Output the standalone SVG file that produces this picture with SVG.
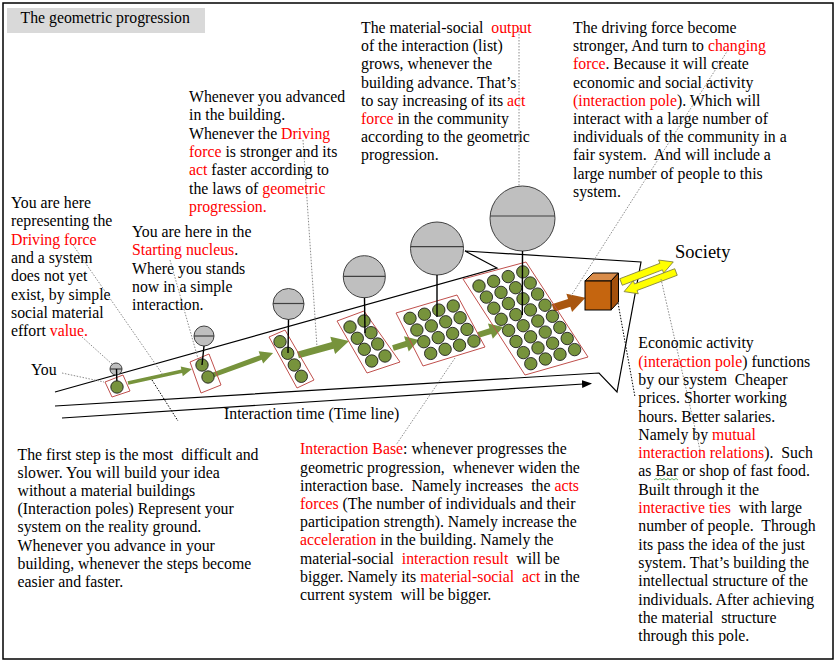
<svg xmlns="http://www.w3.org/2000/svg" width="838" height="663" viewBox="0 0 838 663" xml:space="preserve">
<defs>
<style>
.t{font-family:"Liberation Serif","Times New Roman",serif;font-size:15.8px;fill:#000;white-space:pre}
.r{fill:#ff0000}
.gc{fill:#bfbfbf;stroke:#404040;stroke-width:1}
.gl{stroke:#404040;stroke-width:1.2}
.stem{stroke:#000;stroke-width:1.4}
.g{fill:#77933c;stroke:#1e1e1e;stroke-width:0.9}
.base{fill:none;stroke:#c0504d;stroke-width:1}
.ga{fill:#77933c}
.ln{fill:none;stroke:#000;stroke-width:1.2}
.dot{fill:none;stroke:#8c8c8c;stroke-width:1;stroke-dasharray:1.5 1.5}
.dotk{fill:none;stroke:#000;stroke-width:1;stroke-dasharray:1.5 1.5}
.ya{fill:#ffff00;stroke:#7f7f40;stroke-width:0.8}
</style>
<marker id="ah" markerWidth="10" markerHeight="10" refX="9" refY="5" orient="auto" markerUnits="userSpaceOnUse">
<path d="M0,1 L10,5 L0,9 Z" fill="#000"/>
</marker>
</defs>
<rect x="0" y="0" width="838" height="663" fill="#fff"/>
<rect x="3" y="3" width="830" height="656" fill="none" stroke="#000" stroke-width="1.5"/>

<g id="title">
<rect x="7" y="8" width="198" height="25" fill="#d9d9d9"/>
<text class="t" x="20.5" y="23.3">The geometric progression</text>
</g>

<g id="wedge">
<polyline class="ln" points="55,392 497,268 465,251 641,262 617,392 599,373 55,406"/>
</g>

<g id="connectors">
<line class="ln" x1="62" y1="418" x2="591" y2="383.5" marker-end="url(#ah)"/>
<path class="ga" transform="translate(128,383) rotate(-12.3)" d="M0,-1.8 H55 V-5 L65.5,0 L55,5 V1.8 H0 Z"/>
<path class="ga" transform="translate(213,375) rotate(-20.1)" d="M0,-2.5 H51 V-6.5 L64,0 L51,6.5 V2.5 H0 Z"/>
<path class="ga" transform="translate(298,355) rotate(-15.4)" d="M0,-3.5 H36 V-9 L53,0 L36,9 V3.5 H0 Z"/>
<path class="ga" transform="translate(393,348) rotate(-17.1)" d="M0,-3 H14 V-8 L27,0 L14,8 V3 H0 Z"/>
<path class="ga" transform="translate(478,335) rotate(-17.7)" d="M0,-3 H13 V-8 L26.5,0 L13,8 V3 H0 Z"/>
<path fill="#a9560f" transform="translate(553,308) rotate(-17.4)" d="M0,-4 H17 V-9.5 L34,0 L17,9.5 V4 H0 Z"/>
<path class="ya" transform="translate(621,282) rotate(-21)" d="M0,-3.5 H43 V-7 L56,0 L43,7 V3.5 H0 Z"/>
<path class="ya" transform="translate(676,272) rotate(159.3)" d="M0,-3.5 H43 V-7 L55.5,0 L43,7 V3.5 H0 Z"/>
<line class="dot" x1="82" y1="337" x2="112" y2="364"/>
<line class="dot" x1="62" y1="373" x2="104" y2="382"/>
<line class="dot" x1="73" y1="245" x2="163" y2="375"/>
<line class="dotk" x1="152" y1="380" x2="178" y2="421"/>
<line class="dot" x1="170" y1="260" x2="199" y2="362"/>
<line class="dot" x1="303" y1="140" x2="317" y2="347"/>
<line class="dot" x1="519" y1="28" x2="519" y2="186"/>
<line class="dot" x1="728" y1="50" x2="571" y2="296"/>
<line class="dot" x1="455" y1="358" x2="396" y2="445"/>
<line class="dot" x1="661" y1="279" x2="700" y2="450"/>
<line class="dotk" x1="618" y1="303" x2="635" y2="397"/>
</g>

<g id="stage1">
<polygon class="base" points="105,382 123,375 130,391 112,397"/>
<circle class="gc" cx="116" cy="369" r="6"/>
<line class="gl" x1="110" y1="369" x2="122" y2="369"/>
<line class="stem" x1="116.5" y1="369" x2="117" y2="387"/>
<circle class="g" cx="117" cy="387" r="6.2"/>
</g>

<g id="stage2">
<polygon class="base" points="190,362 209,354 221,385 201,393"/>
<circle class="gc" cx="204" cy="336" r="10"/>
<line class="gl" x1="194" y1="336" x2="214" y2="336"/>
<circle class="g" cx="202" cy="365" r="6.2"/>
<circle class="g" cx="208" cy="377" r="6.2"/>
<line class="stem" x1="204" y1="346" x2="202" y2="365"/>
</g>

<g id="stage3">
<polygon class="base" points="269,337 285,330 314,380 297,388"/>
<circle class="gc" cx="288.5" cy="304" r="15.5"/>
<line class="gl" x1="273" y1="303.5" x2="304" y2="303.5"/>
<circle class="g" cx="280" cy="341.7" r="6.2"/>
<circle class="g" cx="287.7" cy="353.3" r="6.2"/>
<circle class="g" cx="294.3" cy="365" r="6.2"/>
<circle class="g" cx="301.3" cy="376.3" r="6.2"/>
<line class="stem" x1="288.5" y1="319.5" x2="288" y2="353"/>
</g>

<g id="stage4">
<polygon class="base" points="337,321 364,311 400,362 367,373"/>
<circle class="gc" cx="364.3" cy="276.7" r="21"/>
<line class="gl" x1="343.3" y1="276.3" x2="385.3" y2="276.3"/>
<circle class="g" cx="350" cy="327" r="6.2"/>
<circle class="g" cx="357.3" cy="338.3" r="6.2"/>
<circle class="g" cx="364.3" cy="349.3" r="6.2"/>
<circle class="g" cx="371.7" cy="361" r="6.2"/>
<circle class="g" cx="364" cy="321" r="6.2"/>
<circle class="g" cx="371" cy="332.7" r="6.2"/>
<circle class="g" cx="377.7" cy="344" r="6.2"/>
<circle class="g" cx="385" cy="356" r="6.2"/>
<line class="stem" x1="364.5" y1="297.7" x2="365" y2="333"/>
</g>

<g id="stage5">
<polygon class="base" points="396,313 457,295 485,347 423,366"/>
<circle class="gc" cx="437" cy="248.5" r="26.5"/>
<line class="gl" x1="410.6" y1="246.7" x2="463.4" y2="246.7"/>
<circle class="g" cx="410" cy="318.3" r="6.2"/>
<circle class="g" cx="424.4" cy="314.2" r="6.2"/>
<circle class="g" cx="438.8" cy="310.1" r="6.2"/>
<circle class="g" cx="453.2" cy="306" r="6.2"/>
<circle class="g" cx="416.9" cy="330" r="6.2"/>
<circle class="g" cx="431.3" cy="325.9" r="6.2"/>
<circle class="g" cx="445.7" cy="321.8" r="6.2"/>
<circle class="g" cx="460.1" cy="317.7" r="6.2"/>
<circle class="g" cx="423.8" cy="341.7" r="6.2"/>
<circle class="g" cx="438.2" cy="337.6" r="6.2"/>
<circle class="g" cx="452.6" cy="333.5" r="6.2"/>
<circle class="g" cx="467" cy="329.4" r="6.2"/>
<circle class="g" cx="430.7" cy="353.4" r="6.2"/>
<circle class="g" cx="445.1" cy="349.3" r="6.2"/>
<circle class="g" cx="459.5" cy="345.2" r="6.2"/>
<circle class="g" cx="473.9" cy="341.1" r="6.2"/>
<line class="stem" x1="437" y1="275" x2="437" y2="317"/>
</g>

<g id="stage6">
<polygon class="base" points="463,279 526,262 588,357 525,375"/>
<circle class="gc" cx="522.5" cy="218.5" r="32.5"/>
<line class="gl" x1="490.2" y1="216" x2="554.8" y2="216"/>
<circle class="g" cx="479" cy="286" r="6.2"/>
<circle class="g" cx="493.6" cy="281.3" r="6.2"/>
<circle class="g" cx="508.2" cy="276.6" r="6.2"/>
<circle class="g" cx="522.8" cy="271.9" r="6.2"/>
<circle class="g" cx="486.4" cy="297.1" r="6.2"/>
<circle class="g" cx="501" cy="292.4" r="6.2"/>
<circle class="g" cx="515.6" cy="287.7" r="6.2"/>
<circle class="g" cx="530.2" cy="283" r="6.2"/>
<circle class="g" cx="493.8" cy="308.2" r="6.2"/>
<circle class="g" cx="508.4" cy="303.5" r="6.2"/>
<circle class="g" cx="523" cy="298.8" r="6.2"/>
<circle class="g" cx="537.6" cy="294.1" r="6.2"/>
<circle class="g" cx="501.2" cy="319.3" r="6.2"/>
<circle class="g" cx="515.8" cy="314.6" r="6.2"/>
<circle class="g" cx="530.4" cy="309.9" r="6.2"/>
<circle class="g" cx="545" cy="305.2" r="6.2"/>
<circle class="g" cx="508.6" cy="330.4" r="6.2"/>
<circle class="g" cx="523.2" cy="325.7" r="6.2"/>
<circle class="g" cx="537.8" cy="321" r="6.2"/>
<circle class="g" cx="552.4" cy="316.3" r="6.2"/>
<circle class="g" cx="516" cy="341.5" r="6.2"/>
<circle class="g" cx="530.6" cy="336.8" r="6.2"/>
<circle class="g" cx="545.2" cy="332.1" r="6.2"/>
<circle class="g" cx="559.8" cy="327.4" r="6.2"/>
<circle class="g" cx="523.4" cy="352.6" r="6.2"/>
<circle class="g" cx="538" cy="347.9" r="6.2"/>
<circle class="g" cx="552.6" cy="343.2" r="6.2"/>
<circle class="g" cx="567.2" cy="338.5" r="6.2"/>
<circle class="g" cx="530.8" cy="363.7" r="6.2"/>
<circle class="g" cx="545.4" cy="359" r="6.2"/>
<circle class="g" cx="560" cy="354.3" r="6.2"/>
<circle class="g" cx="574.6" cy="349.6" r="6.2"/>
<line class="stem" x1="522.5" y1="251" x2="522.3" y2="315"/>
</g>

<g id="pole">
<polygon points="585,281 593,273 618.5,273 611,281" fill="#d98c4a" stroke="#000" stroke-width="1"/>
<polygon points="611,281 618.5,273 618.5,302 611,310" fill="#a4500c" stroke="#000" stroke-width="1"/>
<rect x="585" y="281" width="26" height="29" fill="#c5650f" stroke="#000" stroke-width="1"/>
</g>

<g id="society">
<text class="t" x="675" y="258" style="font-size:18.5px">Society</text>
</g>

<g id="timeline-label">
<text class="t" x="224" y="419">Interaction time (Time line)</text>
</g>

<g id="you-label">
<text class="t" x="31" y="375">You</text>
</g>

<g id="text-driving">
<text class="t" x="11" y="208">You are here</text>
<text class="t" x="11" y="226.3">representing the</text>
<text class="t" x="11" y="244.6"><tspan class="r">Driving force</tspan></text>
<text class="t" x="11" y="262.9">and a system</text>
<text class="t" x="11" y="281.2">does not yet</text>
<text class="t" x="11" y="299.5">exist, by simple</text>
<text class="t" x="11" y="317.8">social material</text>
<text class="t" x="11" y="336.1">effort <tspan class="r">value.</tspan></text>
</g>

<g id="text-nucleus">
<text class="t" x="132" y="237">You are here in the</text>
<text class="t" x="132" y="255.3"><tspan class="r">Starting nucleus</tspan>.</text>
<text class="t" x="132" y="273.6">Where you stands</text>
<text class="t" x="132" y="291.9">now in a simple</text>
<text class="t" x="132" y="310.2">interaction.</text>
</g>

<g id="text-advance">
<text class="t" x="189" y="102">Whenever you advanced</text>
<text class="t" x="189" y="120.3">in the building.</text>
<text class="t" x="189" y="138.6">Whenever the <tspan class="r">Driving</tspan></text>
<text class="t" x="189" y="156.9"><tspan class="r">force</tspan> is stronger and its</text>
<text class="t" x="189" y="175.2"><tspan class="r">act</tspan> faster according to</text>
<text class="t" x="189" y="193.5">the laws of <tspan class="r">geometric</tspan></text>
<text class="t" x="189" y="211.8"><tspan class="r">progression.</tspan></text>
</g>

<g id="text-output">
<text class="t" x="361" y="33">The material-social  <tspan class="r">output</tspan></text>
<text class="t" x="361" y="51.2">of the interaction (list)</text>
<text class="t" x="361" y="69.4">grows, whenever the</text>
<text class="t" x="361" y="87.6">building advance. That’s</text>
<text class="t" x="361" y="105.8">to say increasing of its <tspan class="r">act</tspan></text>
<text class="t" x="361" y="124"><tspan class="r">force</tspan> in the community</text>
<text class="t" x="361" y="142.2">according to the geometric</text>
<text class="t" x="361" y="160.4">progression.</text>
</g>

<g id="text-changing">
<text class="t" x="573" y="33">The driving force become</text>
<text class="t" x="573" y="51.2">stronger, And turn to <tspan class="r">changing</tspan></text>
<text class="t" x="573" y="69.4"><tspan class="r">force</tspan>. Because it will create</text>
<text class="t" x="573" y="87.6">economic and social activity</text>
<text class="t" x="573" y="105.8"><tspan class="r">(interaction pole</tspan>). Which will</text>
<text class="t" x="573" y="124">interact with a large number of</text>
<text class="t" x="573" y="142.2">individuals of the community in a</text>
<text class="t" x="573" y="160.4">fair system.  And will include a</text>
<text class="t" x="573" y="178.6">large number of people to this</text>
<text class="t" x="573" y="196.8">system.</text>
</g>

<g id="text-first-step">
<text class="t" x="17.5" y="460">The first step is the most  difficult and</text>
<text class="t" x="17.5" y="478.1">slower. You will build your idea</text>
<text class="t" x="17.5" y="496.2">without a material buildings</text>
<text class="t" x="17.5" y="514.3">(Interaction poles) Represent your</text>
<text class="t" x="17.5" y="532.4">system on the reality ground.</text>
<text class="t" x="17.5" y="550.5">Whenever you advance in your</text>
<text class="t" x="17.5" y="568.6">building, whenever the steps become</text>
<text class="t" x="17.5" y="586.7">easier and faster.</text>
</g>

<g id="text-base">
<text class="t" x="300" y="454.3"><tspan class="r">Interaction Base</tspan>: whenever progresses the</text>
<text class="t" x="300" y="472.5">geometric progression,  whenever widen the</text>
<text class="t" x="300" y="490.7">interaction base.  Namely increases  the <tspan class="r">acts</tspan></text>
<text class="t" x="300" y="508.9"><tspan class="r">forces</tspan> (The number of individuals and their</text>
<text class="t" x="300" y="527.1">participation strength). Namely increase the</text>
<text class="t" x="300" y="545.3"><tspan class="r">acceleration</tspan> in the building. Namely the</text>
<text class="t" x="300" y="563.5">material-social  <tspan class="r">interaction result</tspan>  will be</text>
<text class="t" x="300" y="581.7">bigger. Namely its <tspan class="r">material-social  act</tspan> in the</text>
<text class="t" x="300" y="599.9">current system  will be bigger.</text>
</g>

<g id="text-economic">
<text class="t" x="638.3" y="348.3">Economic activity</text>
<text class="t" x="638.3" y="366.6"><tspan class="r">(interaction pole</tspan>) functions</text>
<text class="t" x="638.3" y="384.9">by our system  Cheaper</text>
<text class="t" x="638.3" y="403.2">prices. Shorter working</text>
<text class="t" x="638.3" y="421.5">hours. Better salaries.</text>
<text class="t" x="638.3" y="439.8">Namely by <tspan class="r">mutual</tspan></text>
<text class="t" x="638.3" y="458.1"><tspan class="r">interaction relations</tspan>).  Such</text>
<text class="t" x="638.3" y="476.4">as Bar or shop of fast food.</text>
<text class="t" x="638.3" y="494.7">Built through it the</text>
<text class="t" x="638.3" y="513"><tspan class="r">interactive ties</tspan>  with large</text>
<text class="t" x="638.3" y="531.3">number of people.  Through</text>
<text class="t" x="638.3" y="549.6">its pass the idea of the just</text>
<text class="t" x="638.3" y="567.9">system. That’s building the</text>
<text class="t" x="638.3" y="586.2">intellectual structure of the</text>
<text class="t" x="638.3" y="604.5">individuals. After achieving</text>
<text class="t" x="638.3" y="622.8">the material  structure</text>
<text class="t" x="638.3" y="641.1">through this pole.</text>
<path d="M654,480 l2,-1.5 l2,1.5 l2,-1.5 l2,1.5 l2,-1.5 l2,1.5 l2,-1.5 l2,1.5 l2,-1.5 l2,1.5 l2,-1.5 l2,1.5" fill="none" stroke="#3a9a3a" stroke-width="0.8"/>
</g>
</svg>
